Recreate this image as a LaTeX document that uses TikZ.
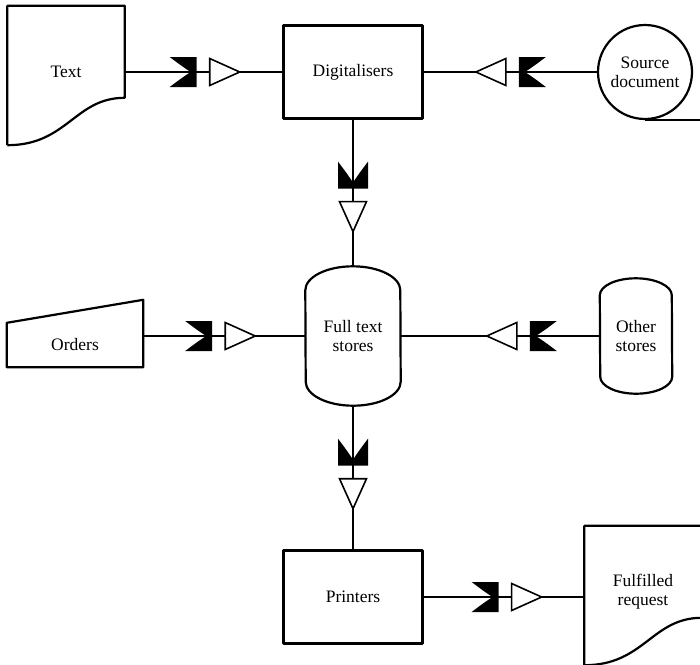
\documentclass[tikz,border=0pt]{standalone}
\usepackage{fontspec}
\setmainfont{Liberation Serif}
\usetikzlibrary{calc,decorations.markings}

\begin{document}
\begin{tikzpicture}[
    x=1pt, y=-1pt,
    font=\fontsize{17.5}{19}\selectfont,
    outline/.style={line width=2.2pt, line join=round},
    box/.style  ={rectangle, draw, outline, align=center,
                  minimum width=139pt, minimum height=93pt},
    shell/.style={rectangle, inner sep=0pt, align=center},
    doc/.style  ={shell, minimum width=117pt, minimum height=132pt},
    flow/.style ={line width=1.6pt, postaction={decorate, decoration={markings,
        mark=at position #1 with {
          \fill (0pt,15pt) -- (27pt,15pt) -- (27pt,-15pt) -- (0pt,-15pt)
                .. controls (12pt,-6pt) .. (21pt,0pt) .. controls (12pt,6pt) .. cycle;
          \filldraw[fill=white, line width=1.6pt, line join=miter]
                (40pt,13.5pt) -- (70pt,0pt) -- (40pt,-13.5pt) -- cycle;}}}}
]
\useasboundingbox (0,0) rectangle (700,664);
\clip (0,0) rectangle (700,664);

%---- PROCESSES --------------------------------------
\node (dig)  [box] at (353,72)  {Digitalisers};
\node (prn)  [box] at (353,597) {Printers};

%---- DOCUMENTS, STORES, INPUTS ----------------------
\node (text) [doc] at (66,72)   {Text};
\node (ful)  [doc] at (643,592) {Fulfilled\\request};
\node (src)  [shell, circle, draw, outline, minimum size=94pt] at (645,72) {Source\\document};
\node (full) [shell, minimum width=95pt, minimum height=139pt] at (353,336) {Full text\\stores};
\node (oth)  [shell, minimum width=72pt, minimum height=115pt] at (636,336) {Other\\stores};
\node (ord)  [shell, minimum width=136pt, minimum height=44pt] at (75,345) {Orders};

% document outlines with wavy bottom
\foreach \d in {text, ful}
  \draw[outline] ($(\d.south west)+(0,7)$) -- (\d.north west) -- (\d.north east)
    -- ($(\d.north east)+(0,92)$) .. controls +(-50,0) and +(60,0) .. ($(\d.south west)+(0,7)$);

% tape tail
\draw[outline] (src.south) -- ++(70,0);

% stores
\draw[outline] ($(full.north west)+(0,24)$) arc[start angle=180, end angle=0, x radius=47.5pt, y radius=24pt]
  -- ($(full.south east)+(0,-24)$) arc[start angle=0, end angle=-180, x radius=47.5pt, y radius=24pt] -- cycle;
\draw[outline] ($(oth.north west)+(0,17)$) arc[start angle=180, end angle=0, x radius=36pt, y radius=17pt]
  -- ($(oth.south east)+(0,-17)$) arc[start angle=0, end angle=-180, x radius=36pt, y radius=17pt] -- cycle;

% manual input
\draw[outline] (ord.south west) -- (ord.north west) -- ($(ord.north east)+(0,-23)$) -- (ord.south east) -- cycle;

%---- FLOWS ------------------------------------------
\draw[flow=45pt] (text.east |- dig) -- (dig);
\draw[flow=51pt] (src) -- (dig);
\draw[flow=42pt] (dig) -- (full);
\draw[flow=42pt] (ord.east |- full) -- (full);
\draw[flow=43pt] (oth) -- (full);
\draw[flow=33pt] (full) -- (prn);
\draw[flow=48pt] (prn) -- (prn -| ful.west);
\end{tikzpicture}
\end{document}
